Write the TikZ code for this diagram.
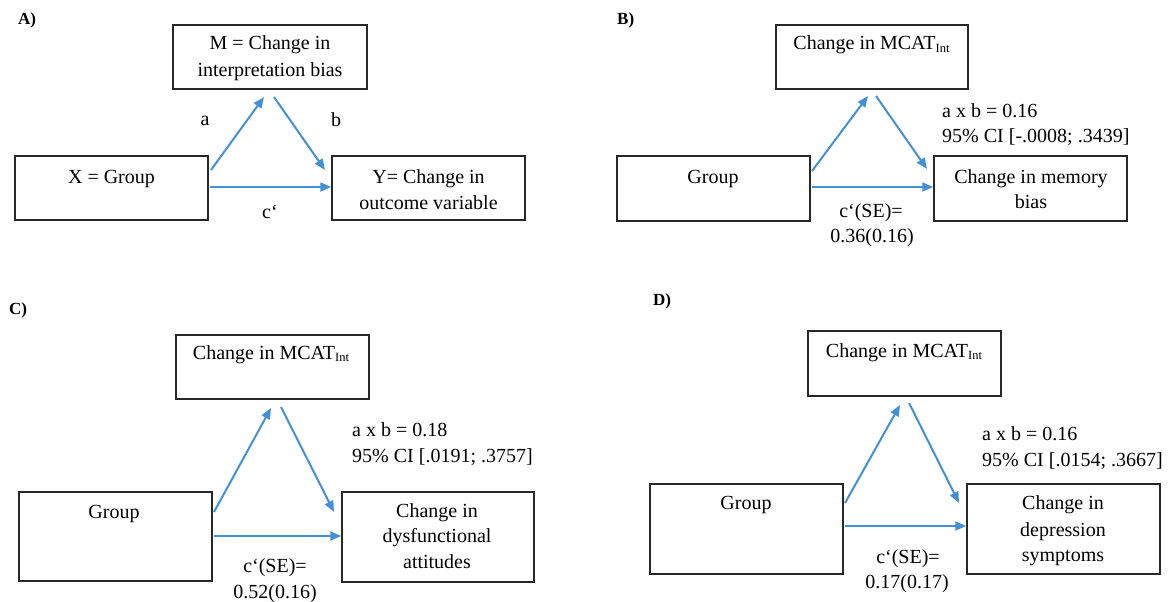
\documentclass[tikz,border=0pt]{standalone}
\usepackage{fontspec}
\setmainfont{Liberation Serif}
\usetikzlibrary{arrows.meta}
\definecolor{arrblue}{RGB}{68,144,212}
\definecolor{boxgray}{RGB}{40,40,40}
\newcommand{\mcatint}{Change in MCAT\raisebox{-2.5pt}{\fontsize{12.5}{13}\selectfont Int}}
\begin{document}
\begin{tikzpicture}[x=1pt,y=-1pt,
  box/.style={draw=boxgray,line width=1.5pt,inner sep=0pt,minimum width=193pt},
  txt/.style={anchor=base,inner sep=0pt,font=\fontsize{20}{26}\selectfont},
  ltxt/.style={anchor=base west,inner sep=0pt,font=\fontsize{20}{26}\selectfont},
  plabel/.style={anchor=base west,inner sep=0pt,font=\fontsize{17}{20}\selectfont\bfseries},
  arr/.style={draw=arrblue,line width=2pt,-{Triangle[length=11pt,width=9pt]}}]
\useasboundingbox (0,0) rectangle (1170,602);

% ---------------- Panel A ----------------
\node[plabel] (labA) at (18,25) {A)};
\node[box,minimum width=194pt,minimum height=64pt] (Ma) at (270,57) {};
\node[txt] (Mat1) at (270,50) {M = Change in};
\node[txt] (Mat2) at (270,77) {interpretation bias};
\node[box,minimum height=64pt] (Xa) at (111.5,188) {};
\node[txt] (Xat) at (111.5,183) {X = Group};
\node[box,minimum height=64pt] (Ya) at (428.5,188) {};
\node[txt] (Yat1) at (428.5,183) {Y= Change in};
\node[txt] (Yat2) at (428.5,209) {outcome variable};
\coordinate (aAs) at (211,170); \coordinate (aAe) at (264,97);
\coordinate (bAs) at (274,97);  \coordinate (bAe) at (325,170);
\coordinate (cAs) at (210,187);
\draw[arr] (aAs) -- (aAe);
\draw[arr] (bAs) -- (bAe);
\draw[arr] (cAs) -- (cAs -| Ya.west);
\node[txt] (laA) at (205,125) {a};
\node[txt] (lbA) at (336,126) {b};
\node[txt] (lcA) at (270,218) {c‘};

% ---------------- Panel B ----------------
\node[plabel] (labB) at (617,25) {B)};
\node[box,minimum width=192pt,minimum height=64pt] (Mb) at (872,57) {};
\node[txt] (Mbt) at (871.5,50) {\mcatint};
\node[box,minimum height=65pt] (Xb) at (713.5,188.5) {};
\node[txt] (Xbt) at (713,183) {Group};
\node[box,minimum height=65pt] (Yb) at (1030.5,188.5) {};
\node[txt] (Ybt1) at (1031,183) {Change in memory};
\node[txt] (Ybt2) at (1031,208) {bias};
\coordinate (aBs) at (812,171); \coordinate (aBe) at (868,96);
\coordinate (bBs) at (876,96);  \coordinate (bBe) at (927,169);
\coordinate (cBs) at (812,187);
\draw[arr] (aBs) -- (aBe);
\draw[arr] (bBs) -- (bBe);
\draw[arr] (cBs) -- (cBs -| Yb.west);
\node[ltxt] (abB) at (942,117) {a x b = 0.16};
\node[ltxt] (ciB) at (942,142) {95\% CI [-.0008; .3439]};
\node[txt] (cB1) at (871,217) {c‘(SE)=};
\node[txt] (cB2) at (872,242) {0.36(0.16)};

% ---------------- Panel C ----------------
\node[plabel] (labC) at (9,314) {C)};
\node[box,minimum height=64pt] (Mc) at (272.5,367) {};
\node[txt] (Mct) at (271,359) {\mcatint};
\node[box,minimum height=89pt] (Xc) at (115.5,536.5) {};
\node[txt] (Xct) at (114,518) {Group};
\node[box,minimum width=192pt,minimum height=90pt] (Yc) at (438,537) {};
\node[txt] (Yct1) at (437,517) {Change in};
\node[txt] (Yct2) at (437,542) {dysfunctional};
\node[txt] (Yct3) at (437,568) {attitudes};
\coordinate (aCs) at (214,512); \coordinate (aCe) at (271,408);
\coordinate (bCs) at (281,407); \coordinate (bCe) at (334,512);
\coordinate (cCs) at (214,536);
\draw[arr] (aCs) -- (aCe);
\draw[arr] (bCs) -- (bCe);
\draw[arr] (cCs) -- (cCs -| Yc.west);
\node[ltxt] (abC) at (352,436) {a x b = 0.18};
\node[ltxt] (ciC) at (352,462) {95\% CI [.0191; .3757]};
\node[txt] (cC1) at (275,572) {c‘(SE)=};
\node[txt] (cC2) at (275,598) {0.52(0.16)};

% ---------------- Panel D ----------------
\node[plabel] (labD) at (653,305) {D)};
\node[box,minimum height=65pt] (Md) at (904.5,363.5) {};
\node[txt] (Mdt) at (904,357) {\mcatint};
\node[box,minimum height=90pt] (Xd) at (746.5,529) {};
\node[txt] (Xdt) at (746,509) {Group};
\node[box,minimum height=90pt] (Yd) at (1063.5,529) {};
\node[txt] (Ydt1) at (1063,509) {Change in};
\node[txt] (Ydt2) at (1063,536) {depression};
\node[txt] (Ydt3) at (1063,561) {symptoms};
\coordinate (aDs) at (845,503); \coordinate (aDe) at (900,405);
\coordinate (bDs) at (909,403); \coordinate (bDe) at (959,503);
\coordinate (cDs) at (845,526);
\draw[arr] (aDs) -- (aDe);
\draw[arr] (bDs) -- (bDe);
\draw[arr] (cDs) -- (cDs -| Yd.west);
\node[ltxt] (abD) at (982,440) {a x b = 0.16};
\node[ltxt] (ciD) at (982,466) {95\% CI [.0154; .3667]};
\node[txt] (cD1) at (908,563) {c‘(SE)=};
\node[txt] (cD2) at (907,588) {0.17(0.17)};
\end{tikzpicture}
\end{document}
